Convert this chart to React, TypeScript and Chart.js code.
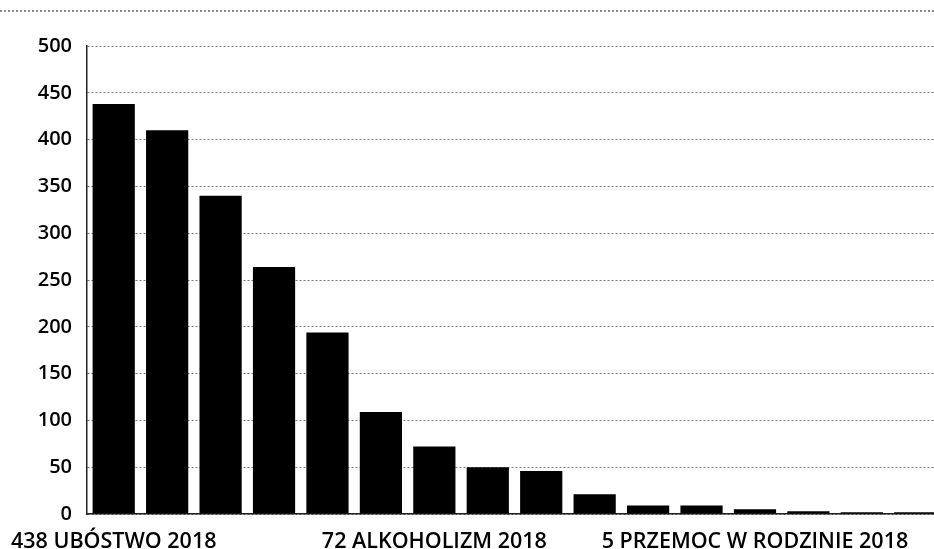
import React, { useEffect, useRef } from 'react';
import { Chart, registerables } from 'chart.js';

Chart.register(...registerables);

const categories: string[] = [
  '438 UBÓSTWO 2018', '', '', '', '', '',
  '72 ALKOHOLIZM 2018', '', '', '', '', '',
  '5 PRZEMOC W RODZINIE 2018', '', '', '',
];
const values: number[] = [438, 410, 340, 264, 194, 109, 72, 50, 46, 21, 9, 9, 5, 3, 2, 2];
const yMin = 0;
const yMax = 500;
const yStep = 50;

const FONT = '"Open Sans", "DejaVu Sans", sans-serif';

export default function App() {
  const ref = useRef<HTMLCanvasElement | null>(null);

  useEffect(() => {
    document.body.style.margin = '0';
    const canvas = ref.current;
    if (!canvas) return;
    const chart = new Chart(canvas, {
      type: 'bar',
      data: {
        labels: categories,
        datasets: [
          {
            data: values,
            backgroundColor: '#000000',
            borderWidth: 0,
            categoryPercentage: 1,
            barPercentage: 0.79,
          },
        ],
      },
      options: {
        responsive: false,
        animation: false,
        devicePixelRatio: 1,
        layout: { padding: { top: 46, left: 0, right: 0, bottom: 0 } },
        plugins: {
          legend: { display: false },
          tooltip: { enabled: false },
          title: { display: false },
        },
        scales: {
          x: {
            grid: { display: false, drawTicks: false },
            border: { display: true, color: '#222', width: 1.5 },
            ticks: {
              autoSkip: false,
              maxRotation: 0,
              minRotation: 0,
              padding: 15,
              color: '#000',
              font: { family: FONT, size: 21.5, weight: '600' as any },
            },
            afterFit: (scale: any) => {
              scale.height = 35;
              scale.paddingLeft = 0;
              scale.paddingRight = 0;
            },
          },
          y: {
            min: yMin,
            max: yMax,
            ticks: {
              stepSize: yStep,
              padding: 15,
              color: '#000',
              font: { family: FONT, size: 20, weight: '600' as any },
            },
            grid: { color: '#777', lineWidth: 1, drawTicks: false },
            border: { display: true, color: '#222', width: 1.5, dash: [2, 2] },
            afterFit: (scale: any) => {
              scale.width = 87;
            },
          },
        },
      },
    });
    return () => chart.destroy();
  }, []);

  return (
    <div style={{ position: 'fixed', left: 0, top: 0, width: 934, height: 549, overflow: 'hidden', background: '#fff' }}>
      <div style={{ position: 'absolute', left: 0, top: 10, width: 934, borderTop: '2px dotted #888' }} />
      <canvas ref={ref} width={942} height={549} style={{ position: 'absolute', left: 0, top: 0 }} />
    </div>
  );
}
